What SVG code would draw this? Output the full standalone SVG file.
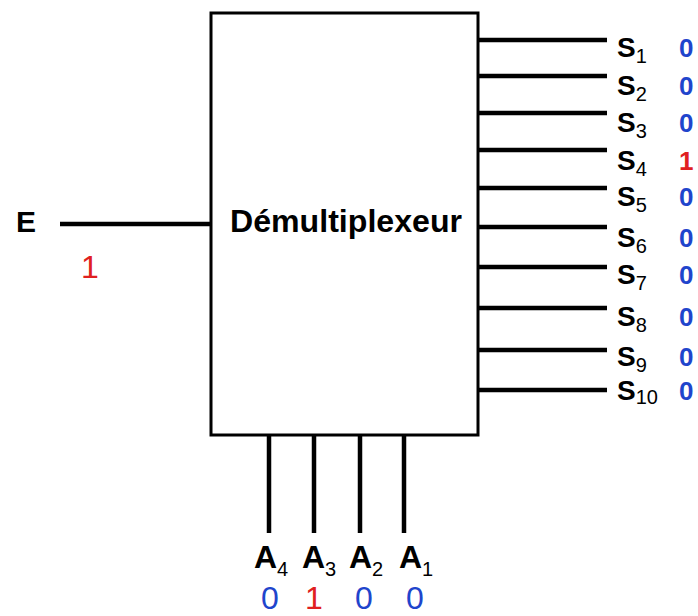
<svg xmlns="http://www.w3.org/2000/svg" width="698" height="616" viewBox="0 0 698 616">
<style>
.w{stroke:#000;stroke-width:4.5;fill:none}
.lb{font-family:"Liberation Sans",Arial,sans-serif;font-weight:bold;fill:#000}
.s{font-size:28px}
.sub{font-weight:normal;font-size:20px}
.v{font-family:"Liberation Sans",Arial,sans-serif;font-weight:bold;font-size:26px}
.bv{font-family:"Liberation Sans",Arial,sans-serif;font-size:32px;text-anchor:middle}
.b{fill:#1f45cc}
.r{fill:#e02020}
</style>
<rect width="698" height="616" fill="#fff"/>
<g id="connectors">
<line class="w" x1="60" y1="224" x2="211" y2="224"/>
<line class="w" x1="478" y1="40" x2="607" y2="40"/>
<line class="w" x1="478" y1="76" x2="607" y2="76"/>
<line class="w" x1="478" y1="113" x2="607" y2="113"/>
<line class="w" x1="478" y1="150" x2="607" y2="150"/>
<line class="w" x1="478" y1="188" x2="607" y2="188"/>
<line class="w" x1="478" y1="227" x2="607" y2="227"/>
<line class="w" x1="478" y1="267" x2="607" y2="267"/>
<line class="w" x1="478" y1="308" x2="607" y2="308"/>
<line class="w" x1="478" y1="350" x2="607" y2="350"/>
<line class="w" x1="478" y1="390" x2="607" y2="390"/>
<line class="w" x1="269" y1="435" x2="269" y2="533"/>
<line class="w" x1="314" y1="435" x2="314" y2="533"/>
<line class="w" x1="360" y1="435" x2="360" y2="533"/>
<line class="w" x1="404" y1="435" x2="404" y2="533"/>
</g>
<g id="demux">
<rect x="211" y="13" width="267" height="422" fill="#fff" stroke="#000" stroke-width="3"/>
<text class="lb" x="346" y="232" font-size="31" text-anchor="middle" textLength="232" lengthAdjust="spacingAndGlyphs">Démultiplexeur</text>
</g>
<g id="input-E">
<text class="lb" x="16" y="232" font-size="30">E</text>
<text class="bv r" x="90" y="278">1</text>
</g>
<g id="outputs">
<text class="lb s" x="617" y="57">S<tspan class="sub" dy="6">1</tspan></text>
<text class="lb s" x="617" y="95">S<tspan class="sub" dy="6">2</tspan></text>
<text class="lb s" x="617" y="132">S<tspan class="sub" dy="6">3</tspan></text>
<text class="lb s" x="617" y="170">S<tspan class="sub" dy="6">4</tspan></text>
<text class="lb s" x="617" y="206">S<tspan class="sub" dy="6">5</tspan></text>
<text class="lb s" x="617" y="247">S<tspan class="sub" dy="6">6</tspan></text>
<text class="lb s" x="617" y="284">S<tspan class="sub" dy="6">7</tspan></text>
<text class="lb s" x="617" y="326">S<tspan class="sub" dy="6">8</tspan></text>
<text class="lb s" x="617" y="366">S<tspan class="sub" dy="6">9</tspan></text>
<text class="lb s" x="617" y="400">S<tspan class="sub" dy="4" font-size="19">10</tspan></text>
<text class="v b" x="679" y="57">0</text>
<text class="v b" x="679" y="95">0</text>
<text class="v b" x="679" y="132">0</text>
<text class="v r" x="679" y="170">1</text>
<text class="v b" x="679" y="206">0</text>
<text class="v b" x="679" y="247">0</text>
<text class="v b" x="679" y="284">0</text>
<text class="v b" x="679" y="326">0</text>
<text class="v b" x="679" y="366">0</text>
<text class="v b" x="679" y="400">0</text>
</g>
<g id="address">
<text class="lb" x="254" y="568" font-size="32">A<tspan class="sub" font-size="22" dy="8">4</tspan></text>
<text class="lb" x="302" y="568" font-size="32">A<tspan class="sub" font-size="22" dy="8">3</tspan></text>
<text class="lb" x="349" y="568" font-size="32">A<tspan class="sub" font-size="22" dy="8">2</tspan></text>
<text class="lb" x="399" y="568" font-size="32">A<tspan class="sub" font-size="22" dy="8">1</tspan></text>
<text class="bv b" x="270" y="609">0</text>
<text class="bv r" x="314" y="609">1</text>
<text class="bv b" x="364" y="609">0</text>
<text class="bv b" x="415" y="609">0</text>
</g>
</svg>
